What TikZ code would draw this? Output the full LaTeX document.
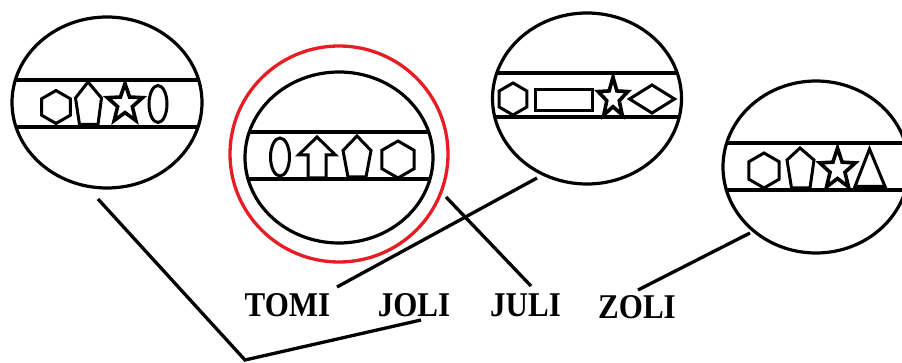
\documentclass[tikz,border=0pt]{standalone}
\usepackage{fontspec}
\setmainfont{Liberation Serif}
\usetikzlibrary{shapes.geometric}
\definecolor{ringred}{RGB}{232,28,36}
\newcommand\tallname[1]{\scalebox{1}[1.12]{#1}}
\begin{document}
\begin{tikzpicture}[x=1pt,y=-1pt,
  disc/.style={ellipse, draw, line width=3.2pt, inner sep=0pt, outer sep=0pt},
  bandline/.style={line width=3.4pt},
  glyph/.style={line width=3pt, line join=miter, miter limit=4},
  link/.style={line width=3.3pt},
  personname/.style={font=\bfseries\fontsize{31}{31}\selectfont, inner sep=0pt},
  pics/hexa/.style={code={\draw[glyph] (-90:1) -- (-30:1) -- (30:1) -- (90:1) -- (150:1) -- (210:1) -- cycle;}},
  pics/fivestar/.style={code={\draw[glyph, line width=3.6pt] (-90:1) -- (-54:0.42) -- (-18:1) -- (18:0.42) -- (54:1) -- (90:0.42) -- (126:1) -- (162:0.42) -- (198:1) -- (234:0.42) -- cycle;}}
]
\useasboundingbox (0,0) rectangle (902,363);

% the four discs and the red ring
\node[disc, minimum width=190pt, minimum height=171pt] (d1) at (107,102.5) {};
\node[disc, minimum width=188pt, minimum height=171pt] (d2) at (339,157.5) {};
\node[ellipse, draw=ringred, line width=3.3pt, inner sep=0pt, outer sep=0pt,
      minimum width=218pt, minimum height=216pt] (ring) at (339,154) {};
\node[disc, minimum width=189pt, minimum height=171pt] (d3) at (587,98.5) {};
\node[disc, minimum width=186pt, minimum height=172pt] (d4) at (816,167) {};

% horizontal bands across each disc
\begin{scope}
  \clip (d1.center) ellipse [x radius=95pt, y radius=85.5pt];
  \draw[bandline] (0,80) -- (220,80) (0,127) -- (220,127);
\end{scope}
\begin{scope}
  \clip (d2.center) ellipse [x radius=94pt, y radius=85.5pt];
  \draw[bandline] (230,132) -- (450,132) (230,179) -- (450,179);
\end{scope}
\begin{scope}
  \clip (d3.center) ellipse [x radius=94.5pt, y radius=85.5pt];
  \draw[bandline] (480,73) -- (700,73) (480,117) -- (700,117);
\end{scope}
\begin{scope}
  \clip (d4.center) ellipse [x radius=93pt, y radius=86pt];
  \draw[bandline] (710,143) -- (920,143) (710,190) -- (920,190);
\end{scope}

% symbols of the first disc
\pic[scale=16.5] at (56,107) {hexa};
\draw[glyph] (88,82) -- (101.5,98) -- (98,124.5) -- (79.5,124.5) -- (75.5,98) -- cycle;
\pic[scale=20.5, xscale=0.9] at (125,104) {fivestar};
\draw[glyph] (158,104) ellipse [x radius=9pt, y radius=18.5pt];

% symbols of the second disc
\draw[glyph] (280,157) ellipse [x radius=9.5pt, y radius=19pt];
\draw[glyph] (317,137) -- (335.5,155) -- (326,155) -- (326,178) -- (308,178) -- (308,155) -- (298.5,155) -- cycle;
\draw[glyph] (357,136) -- (371,150.5) -- (366,177) -- (348,177) -- (343,150.5) -- cycle;
\pic[scale=18.5] at (398,159.5) {hexa};

% symbols of the third disc
\pic[scale=16] at (513,99) {hexa};
\draw[glyph] (535,89.5) rectangle (592.5,110.5);
\pic[scale=20.8, xscale=0.75] at (613,98) {fivestar};
\draw[glyph] (629.5,99) -- (652,85) -- (674.5,99) -- (652,113) -- cycle;

% symbols of the fourth disc
\pic[scale=17.5] at (764,170.5) {hexa};
\draw[glyph] (800,148) -- (814,160) -- (810,188) -- (791.5,188) -- (787,160) -- cycle;
\pic[scale=21.5, xscale=0.87] at (837.5,169.5) {fivestar};
\draw[glyph] (869.5,149) -- (885,186.5) -- (855,186.5) -- cycle;

% names
\node[personname] (tomi) at (287.5,305) {\tallname{TOMI}};
\node[personname] (joli) at (414,305) {\tallname{JOLI}};
\node[personname] (juli) at (525.5,305) {\tallname{JULI}};
\node[personname] (zoli) at (637,307) {\tallname{ZOLI}};

% connecting strokes
\coordinate (a1) at (98,199);
\coordinate (bend) at (245,360);
\coordinate (a2) at (421,320);
\coordinate (t1) at (337,287);
\coordinate (t2) at (537,178);
\coordinate (j1) at (446,197);
\coordinate (j2) at (531,286);
\coordinate (z1) at (638,290);
\coordinate (z2) at (750,233);
\draw[link] (a1) -- (bend) -- (a2);
\draw[link] (t1) -- (t2);
\draw[link] (j1) -- (j2);
\draw[link] (z1) -- (z2);
\end{tikzpicture}
\end{document}
